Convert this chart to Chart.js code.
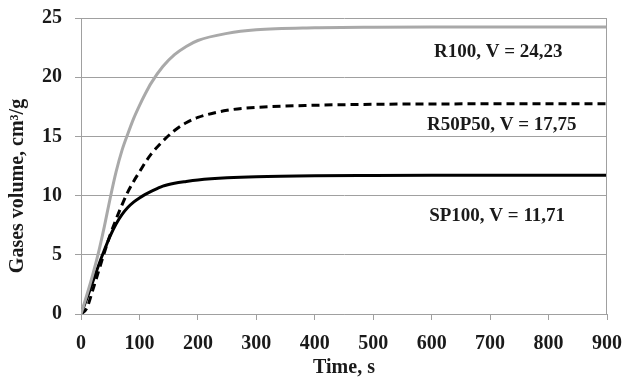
<!DOCTYPE html>
<html>
<head>
<meta charset="utf-8">
<script src="https://cdn.jsdelivr.net/npm/chart.js@4"></script>
<style>
  body { margin: 0; background: #fff; }
  #wrap { width: 624px; height: 380px; }
</style>
</head>
<body>
<div id="wrap"><canvas id="myChart"></canvas></div>
<script>
const ctx = document.getElementById('myChart').getContext('2d');

// time, s
const time = [0, 10, 20, 30, 40, 50, 60, 70, 80, 90, 100, 110, 120, 140, 160, 180, 200, 250, 300, 400, 500, 600, 700, 800, 900];
// gases volume, cm3/g
const r100   = [0, 1.6, 3.3, 5.2, 7.4, 9.8, 12.0, 13.8, 15.2, 16.5, 17.6, 18.6, 19.5, 20.9, 21.9, 22.6, 23.1, 23.7, 24.0, 24.17, 24.22, 24.23, 24.23, 24.23, 24.23];
const r50p50 = [0, 0.5, 2.0, 3.6, 5.2, 6.7, 8.0, 9.2, 10.3, 11.2, 12.0, 12.8, 13.5, 14.6, 15.5, 16.15, 16.6, 17.2, 17.45, 17.63, 17.71, 17.74, 17.75, 17.75, 17.75];
const sp100  = [0, 1.3, 2.7, 4.1, 5.4, 6.6, 7.6, 8.4, 9.0, 9.45, 9.8, 10.1, 10.35, 10.8, 11.05, 11.2, 11.32, 11.5, 11.6, 11.68, 11.7, 11.71, 11.71, 11.71, 11.71];

const xTicks = [0, 100, 200, 300, 400, 500, 600, 700, 800, 900];
const yTicks = [0, 5, 10, 15, 20, 25];

// curve labels: text and where they sit (in data units)
const labels = ['R100, V = 24,23', 'R50P50, V = 17,75', 'SP100, V = 11,71'];
const labelX = [714, 720, 712];
const labelY = [22.1, 15.95, 8.3];

const font = 'Liberation Serif, Times New Roman, serif';

function pts(vals) {
    return time.map((t, i) => ({ x: t, y: vals[i] }));
}

const extras = {
    id: 'extras',
    afterDraw(chart) {
        const c = chart.ctx;
        const a = chart.chartArea;
        const sx = chart.scales.x, sy = chart.scales.y;
        c.save();
        // right border of the plot
        c.strokeStyle = '#a0a0a0';
        c.lineWidth = 1;
        c.beginPath();
        c.moveTo(a.right - 0.5, a.top);
        c.lineTo(a.right - 0.5, a.bottom);
        c.stroke();

        c.fillStyle = '#1a1a1a';
        c.font = 'bold 19px ' + font;
        c.textAlign = 'center';
        c.textBaseline = 'middle';
        for (let i = 0; i < labels.length; i++) {
            c.fillText(labels[i], sx.getPixelForValue(labelX[i]), sy.getPixelForValue(labelY[i]));
        }

        // axis titles
        c.font = 'bold 20px ' + font;
        c.fillText('Time, s', (a.left + a.right) / 2, 368);
        c.translate(18, 186);
        c.rotate(-Math.PI / 2);
        c.fillText('Gases volume, cm³/g', 0, 0);
        c.restore();
    }
};

const myChart = new Chart(ctx, {
    type: 'line',
    data: {
        datasets: [{
            label: 'R100',
            data: pts(r100),
            borderColor: '#a9a9a9',
            borderWidth: 3,
            pointRadius: 0,
            cubicInterpolationMode: 'monotone'
        }, {
            label: 'R50P50',
            data: pts(r50p50),
            borderColor: '#000',
            borderWidth: 3,
            borderDash: [8, 5],
            pointRadius: 0,
            cubicInterpolationMode: 'monotone'
        }, {
            label: 'SP100',
            data: pts(sp100),
            borderColor: '#000',
            borderWidth: 3,
            pointRadius: 0,
            cubicInterpolationMode: 'monotone'
        }]
    },
    options: {
        responsive: true,
        maintainAspectRatio: false,
        animation: false,
        layout: { padding: { left: 0, right: 0, top: 18, bottom: 0 } },
        plugins: {
            legend: { display: false },
            tooltip: { enabled: false }
        },
        scales: {
            x: {
                type: 'linear',
                min: 0,
                max: 900,
                afterBuildTicks: (s) => { s.ticks = xTicks.map(v => ({ value: v })); },
                afterFit: (s) => { s.height = 66; s.paddingLeft = 0; s.paddingRight = 17; },
                grid: { drawOnChartArea: false, drawTicks: true, tickLength: 6, color: '#a0a0a0' },
                border: { color: '#a0a0a0' },
                ticks: { color: '#1a1a1a', padding: 12, font: { family: font, size: 20, weight: 'bold' } }
            },
            y: {
                min: 0,
                max: 25,
                afterBuildTicks: (s) => { s.ticks = yTicks.map(v => ({ value: v })); },
                afterFit: (s) => { s.width = 81; s.paddingTop = 0; s.paddingBottom = 0; },
                grid: { color: '#a0a0a0', tickLength: 6 },
                border: { color: '#a0a0a0' },
                ticks: { color: '#1a1a1a', padding: 13, font: { family: font, size: 20, weight: 'bold' } }
            }
        }
    },
    plugins: [extras]
});
</script>
</body>
</html>
